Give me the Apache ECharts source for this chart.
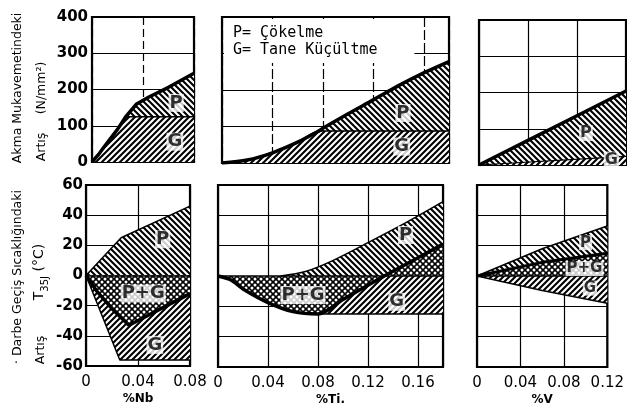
<!DOCTYPE html>
<html>
<head>
<meta charset="utf-8">
<script src="https://cdn.jsdelivr.net/npm/echarts@6/dist/echarts.min.js"></script>
<style>
html, body { margin: 0; padding: 0; background: #fff; }
#chart { width: 627px; height: 413px; }
</style>
</head>
<body>
<div id="chart"></div>
<script>
// x ekseni üst sınırları (% element)
var nbMax = 0.08, tiMax = 0.18, vMax = 0.12;
var xInterval = 0.04;
// y eksenleri [min, max, aralık]
var yieldAxis = [0, 400, 100];
var transAxis = [-60, 60, 20];

// Akma mukavemetindeki artış (N/mm2) - üst paneller
var nbYieldTotal = [[0, 0], [0.005, 20], [0.01, 44], [0.02, 90], [0.0265, 125], [0.035, 160], [0.045, 180], [0.06, 206], [0.08, 245]];
var nbYieldG = 125;
var tiYieldTotal = [[0, 0], [0.02, 8], [0.04, 28], [0.06, 57], [0.077, 88], [0.08, 95], [0.1, 135], [0.12, 173], [0.14, 212], [0.16, 247], [0.18, 278]];
var tiYieldG = 88;
var vYieldTotal = [[0, 0], [0.04, 68], [0.08, 136], [0.12, 204]];
var vYieldG = [[0, 0], [0.12, 24]];

// Darbe geçiş sıcaklığındaki artış (°C) - alt paneller
var nbTransP = [[0, 0], [0.027, 25], [0.08, 46]];
var nbTransNet = [[0, 0], [0.008, -10], [0.02, -22], [0.033, -33], [0.08, -12]];
var nbTransG = [[0, 0], [0.026, -56], [0.08, -56]];
var tiTransP = [[0.05, 0], [0.07, 3], [0.09, 9.5], [0.12, 22], [0.15, 35], [0.18, 49]];
var tiTransNet = [[0, 0], [0.01, -2.5], [0.02, -8.5], [0.04, -17.5], [0.06, -23.5], [0.08, -25], [0.1, -15.5], [0.133, 0], [0.16, 12], [0.18, 21]];
var tiTransG = [[0.075, -25], [0.18, -25]];
var vTransP = [[0, 0], [0.06, 18], [0.12, 33]];
var vTransNet = [[0, 0], [0.06, 9], [0.12, 15]];
var vTransG = [[0, 0], [0.06, -9.5], [0.12, -18]];

// bölge etiketleri [metin, x, y]
var nbYieldLabels = [['P', 0.066, 163], ['G', 0.065, 56]];
var tiYieldLabels = [['P', 0.1435, 137], ['G', 0.1425, 45]];
var vYieldLabels = [['P', 0.0873, 88], ['G', 0.108, 15]];
var nbTransLabels = [['P', 0.059, 24], ['P+G', 0.044, -12], ['G', 0.053, -46]];
var tiTransLabels = [['P', 0.15, 27], ['P+G', 0.068, -12.5], ['G', 0.143, -17]];
var vTransLabels = [['P', 0.1, 22], ['P+G', 0.099, 5], ['G', 0.104, -8]];

// tarama desenleri
function hatch(dir) {
    var s = 6;
    var c = document.createElement('canvas');
    c.width = s; c.height = s;
    var ctx = c.getContext('2d');
    ctx.fillStyle = '#fff';
    ctx.fillRect(0, 0, s, s);
    ctx.strokeStyle = '#000';
    ctx.lineWidth = 2.1;
    ctx.beginPath();
    if (dir === '/') {
        ctx.moveTo(0, s); ctx.lineTo(s, 0);
        ctx.moveTo(-s / 2, s / 2); ctx.lineTo(s / 2, -s / 2);
        ctx.moveTo(s / 2, s * 1.5); ctx.lineTo(s * 1.5, s / 2);
    } else {
        ctx.moveTo(0, 0); ctx.lineTo(s, s);
        ctx.moveTo(s / 2, -s / 2); ctx.lineTo(s * 1.5, s / 2);
        ctx.moveTo(-s / 2, s / 2); ctx.lineTo(s / 2, s * 1.5);
    }
    ctx.stroke();
    return { image: c, repeat: 'repeat' };
}
function dots() {
    var s = 6;
    var c = document.createElement('canvas');
    c.width = s; c.height = s;
    var ctx = c.getContext('2d');
    ctx.fillStyle = '#000';
    ctx.fillRect(0, 0, s, s);
    ctx.fillStyle = '#fff';
    [[0, 0], [s, 0], [0, s], [s, s], [s / 2, s / 2]].forEach(function (p) {
        ctx.beginPath();
        ctx.arc(p[0], p[1], 1.5, 0, Math.PI * 2);
        ctx.fill();
    });
    return { image: c, repeat: 'repeat' };
}
var P = hatch('\\'), G = hatch('/'), PG = dots();

function capAt(data, level) {
    return data.map(function (p) { return [p[0], Math.min(p[1], level)]; });
}

function areaSeries(i, data, fill, lw, smooth) {
    return {
        type: 'line', xAxisIndex: i, yAxisIndex: i, data: data, smooth: smooth || false,
        symbol: 'none', silent: true, z: 2,
        lineStyle: { color: '#000', width: lw, opacity: lw ? 1 : 0 },
        areaStyle: { color: fill, opacity: 1 }
    };
}
function edgeSeries(i, data, lw, smooth, zeroLine) {
    var s = {
        type: 'line', xAxisIndex: i, yAxisIndex: i, data: data, smooth: smooth || false,
        symbol: 'none', silent: true, z: 3,
        lineStyle: { color: '#000', width: lw }
    };
    if (zeroLine) {
        s.markLine = {
            silent: true, symbol: 'none', label: { show: false },
            lineStyle: { color: '#000', width: 1.5, type: 'solid' },
            data: [{ yAxis: 0 }]
        };
    }
    return s;
}
function labelSeries(i, list, size) {
    return {
        type: 'scatter', xAxisIndex: i, yAxisIndex: i, symbolSize: 0, silent: true, z: 5,
        data: list.map(function (l) { return { name: l[0], value: [l[1], l[2]] }; }),
        label: {
            show: true, position: 'inside', formatter: '{b}',
            fontFamily: 'DejaVu Sans', fontWeight: 'bold', fontSize: size, color: '#000',
            backgroundColor: '#fff', padding: [0, 1]
        }
    };
}

// panel yerleşimi
var grids = [
    { left: 92, top: 17, width: 102, height: 145 },
    { left: 222, top: 17, width: 227, height: 146 },
    { left: 479, top: 20, width: 147, height: 145 },
    { left: 86, top: 185, width: 104, height: 181 },
    { left: 218, top: 185, width: 225, height: 182 },
    { left: 477, top: 185, width: 145, height: 182 }
];
var xMaxes = [nbMax, tiMax, vMax, nbMax, tiMax, vMax];
var xNames = ['', '', '', '%Nb', '%Ti.', '%V'];
var xDash = [[8, 4], [10, 3], 'solid', 'solid', 'solid', 'solid'];

var xAxes = [], yAxes = [];
grids.forEach(function (g, i) {
    g.show = true;
    g.borderColor = '#000';
    g.borderWidth = 2.2;
    var bottom = i >= 3;
    var ya = bottom ? transAxis : yieldAxis;
    xAxes.push({
        type: 'value', gridIndex: i, min: 0, max: xMaxes[i], interval: xInterval,
        axisLine: { show: false }, axisTick: { show: false },
        axisLabel: {
            show: bottom, margin: 9, showMaxLabel: xMaxes[i] !== tiMax,
            fontFamily: 'DejaVu Sans', fontSize: 15, color: '#000'
        },
        splitLine: { show: true, lineStyle: { color: '#000', width: 1.2, type: xDash[i] } },
        name: xNames[i], nameLocation: 'middle', nameGap: 27,
        nameTextStyle: { fontFamily: 'DejaVu Sans', fontSize: 12, fontWeight: 'bold', color: '#000' }
    });
    yAxes.push({
        type: 'value', gridIndex: i, min: ya[0], max: ya[1], interval: ya[2],
        axisLine: { show: false }, axisTick: { show: false },
        axisLabel: {
            show: i === 0 || i === 3, margin: bottom ? 3 : 4,
            fontFamily: 'DejaVu Sans', fontWeight: 'bold', fontSize: 15, color: '#000'
        },
        splitLine: { show: true, lineStyle: { color: '#000', width: 1.2 } }
    });
});

function vtext(x, y, text, size, rich) {
    var st = { text: text, fill: '#000', font: size + 'px "DejaVu Sans"', align: 'center', verticalAlign: 'middle' };
    if (rich) st.rich = rich;
    return { type: 'text', x: x, y: y, rotation: Math.PI / 2, silent: true, style: st };
}

var myChart = echarts.init(document.getElementById('chart'), null, { renderer: 'canvas' });
var option = {
    animation: false,
    backgroundColor: '#fff',
    title: {
        text: 'P= Çökelme\nG= Tane Küçültme',
        left: 224, top: 19,
        padding: [6, 37, 4, 9],
        backgroundColor: '#fff',
        textStyle: { fontFamily: 'DejaVu Sans Mono', fontSize: 15, fontWeight: 'normal', lineHeight: 17, color: '#000' }
    },
    grid: grids,
    xAxis: xAxes,
    yAxis: yAxes,
    graphic: [
        vtext(18, 88, 'Akma Mukavemetindeki', 12.5),
        vtext(42, 147, 'Artış', 12.5),
        vtext(42, 88, '(N/mm²)', 12.5),
        vtext(18, 277, '· Darbe Geçiş Sıcaklığındaki', 12.5),
        vtext(41, 350, 'Artış', 12.5),
        vtext(41, 272, '{t|T}{s|35J}{t| (°C)}', 14, {
            t: { fontSize: 14, lineHeight: 14, verticalAlign: 'top', fontFamily: 'DejaVu Sans' },
            s: { fontSize: 10, padding: [8, 0, 0, 0], verticalAlign: 'bottom', fontFamily: 'DejaVu Sans' }
        })
    ],
    series: [
        // üst: Nb
        areaSeries(0, nbYieldTotal, P, 0),
        areaSeries(0, capAt(nbYieldTotal, nbYieldG), G, 1.5),
        edgeSeries(0, nbYieldTotal, 3.5),
        labelSeries(0, nbYieldLabels, 18),
        // üst: Ti
        areaSeries(1, tiYieldTotal, P, 0, 0.3),
        areaSeries(1, capAt(tiYieldTotal, tiYieldG), G, 1.5, 0.3),
        edgeSeries(1, tiYieldTotal, 3.5, 0.3),
        labelSeries(1, tiYieldLabels, 18),
        // üst: V
        areaSeries(2, vYieldTotal, P, 0),
        areaSeries(2, vYieldG, G, 1.2),
        edgeSeries(2, vYieldTotal, 3.5),
        labelSeries(2, vYieldLabels, 16),
        // alt: Nb
        areaSeries(3, nbTransP, P, 1.5),
        areaSeries(3, nbTransG, G, 1.5),
        areaSeries(3, nbTransNet, PG, 0),
        edgeSeries(3, nbTransNet, 3.5, false, true),
        labelSeries(3, nbTransLabels, 18),
        // alt: Ti
        areaSeries(4, tiTransP, P, 1.5, 0.3),
        areaSeries(4, tiTransG, G, 1.5),
        areaSeries(4, tiTransNet, PG, 0, 0.3),
        edgeSeries(4, tiTransNet, 3.5, 0.3, true),
        labelSeries(4, tiTransLabels, 18),
        // alt: V
        areaSeries(5, vTransP, P, 1.5),
        areaSeries(5, vTransG, G, 1.5),
        areaSeries(5, vTransNet, PG, 0),
        edgeSeries(5, vTransNet, 3, false, true),
        labelSeries(5, vTransLabels, 15)
    ]
};
myChart.setOption(option);
</script>
</body>
</html>
